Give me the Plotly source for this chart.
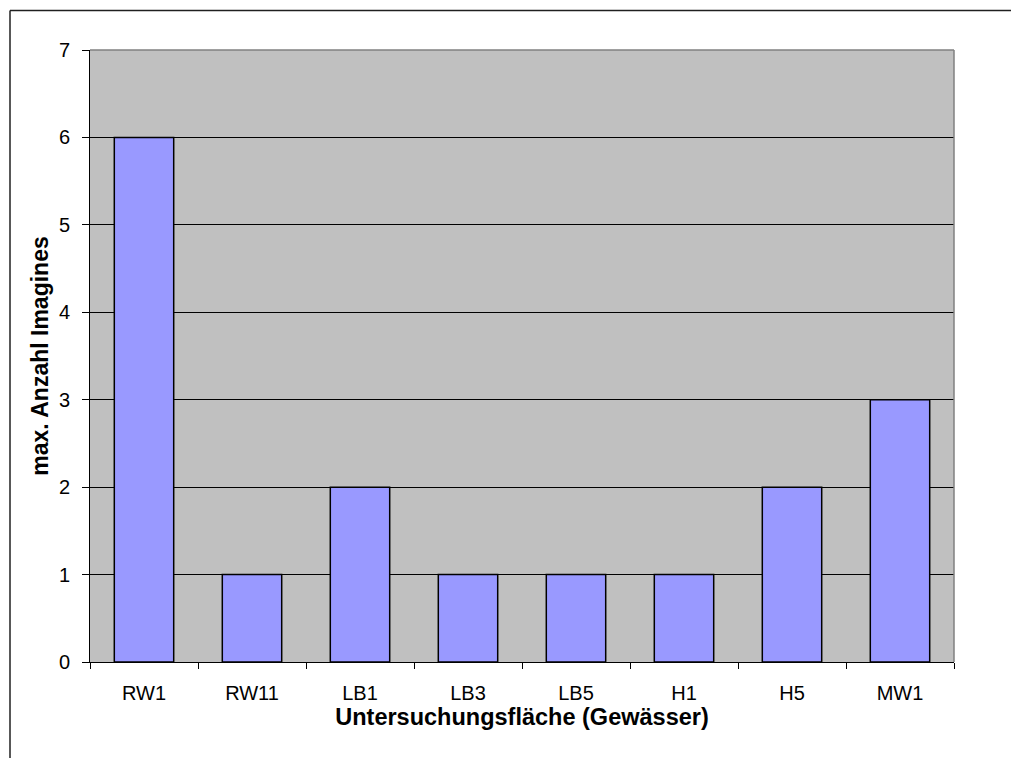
import plotly.graph_objects as go

categories = ["RW1", "RW11", "LB1", "LB3", "LB5", "H1", "H5", "MW1"]
values = [6, 1, 2, 1, 1, 1, 2, 3]
y_ticks = [0, 1, 2, 3, 4, 5, 6, 7]

FONT = "Liberation Sans, Arial, sans-serif"

# page body has an 8px margin; compensate so the plot lands where the reference has it
OFF = 8
W, H = 1019 - OFF, 758 - OFF
L, T = 90 - OFF, 50 - OFF
R = W - (954 - OFF)
B = H - (662 - OFF)
pw, ph = W - L - R, H - T - B

fig = go.Figure()
fig.add_trace(go.Bar(
    x=categories, y=values,
    marker=dict(color="#9999FF", line=dict(color="black", width=1.5)),
))

# outer chart frame (top and left edges visible in the reference)
fx0 = (10 - OFF - L) / pw
fy1 = (H - B - (10.5 - OFF)) / ph

fig.update_layout(
    width=W, height=H,
    margin=dict(l=L, r=R, t=T, b=B, pad=0),
    paper_bgcolor="white",
    plot_bgcolor="#C0C0C0",
    bargap=0.45,
    showlegend=False,
    font=dict(family=FONT, color="black", size=20),
    xaxis=dict(
        type="category",
        tickson="boundaries",
        ticks="outside", ticklen=6, tickcolor="black", tickwidth=1,
        ticklabelstandoff=13,
        showgrid=False,
        showline=True, linecolor="black", linewidth=1,
        tickfont=dict(size=20),
        title=dict(text="<b>Untersuchungsfläche (Gewässer)</b>", font=dict(size=23.5), standoff=3),
    ),
    yaxis=dict(
        range=[0, 7],
        tickvals=y_ticks,
        ticks="outside", ticklen=7, tickcolor="black", tickwidth=1,
        ticklabelstandoff=8,
        showgrid=True, gridcolor="black", gridwidth=1,
        showline=True, linecolor="black", linewidth=1,
        zeroline=False,
        tickfont=dict(size=20),
        title=dict(text="<b>max. Anzahl Imagines</b>", font=dict(size=23), standoff=3),
    ),
    shapes=[
        # plot area border (top and right, gray)
        dict(type="line", xref="paper", yref="paper", x0=0, x1=1, y0=1, y1=1,
             line=dict(color="#808080", width=1.5)),
        dict(type="line", xref="paper", yref="paper", x0=1, x1=1, y0=0, y1=1,
             line=dict(color="#808080", width=1.5)),
        # outer chart frame
        dict(type="line", xref="paper", yref="paper", x0=fx0, x1=1.2, y0=fy1, y1=fy1,
             line=dict(color="#202020", width=1.5)),
        dict(type="line", xref="paper", yref="paper", x0=fx0, x1=fx0, y0=fy1, y1=-0.3,
             line=dict(color="#202020", width=1.5)),
    ],
)

fig.write_html("out.html")
